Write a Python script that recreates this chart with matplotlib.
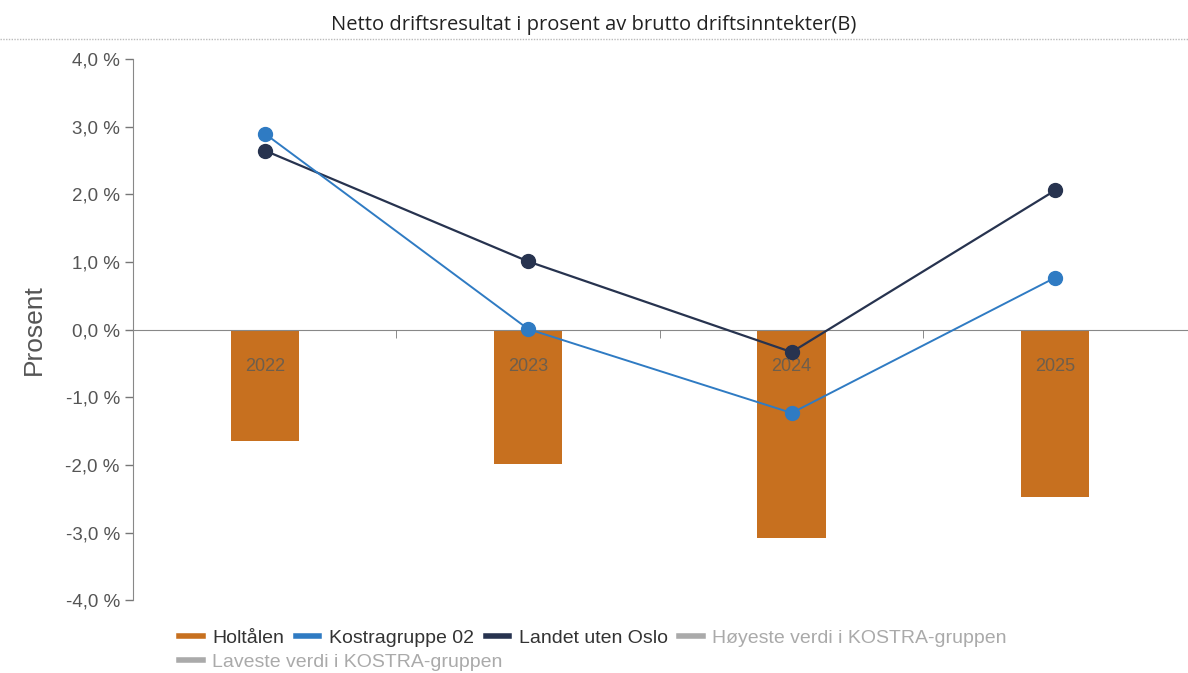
import numpy as np
import matplotlib.pyplot as plt
from matplotlib.lines import Line2D
from matplotlib.ticker import FuncFormatter

# data
years = ["2022", "2023", "2024", "2025"]
holtalen = [-1.64, -1.98, -3.08, -2.47]
kostragruppe = [2.90, 0.01, -1.23, 0.77]
landet = [2.65, 1.01, -0.33, 2.06]

c_bar = "#C7701F"
c_kostra = "#2F7BC3"
c_landet = "#27334F"
c_grey = "#AAAAAA"

plt.rcParams['font.family'] = ['Liberation Sans', 'DejaVu Sans']

fig = plt.figure(figsize=(11.88, 6.73), dpi=100)
ax = fig.add_axes([0.112, 0.108, 0.887, 0.804])

x = np.arange(len(years))
ax.bar(x, holtalen, width=0.26, color=c_bar, zorder=2)
ax.plot(x, landet, color=c_landet, lw=1.6, marker="o", ms=10, zorder=6)
ax.plot(x, kostragruppe, color=c_kostra, lw=1.4, marker="o", ms=10, zorder=7)

ax.set_xlim(-0.5, 3.5)
ax.set_ylim(-4, 4)
ax.set_yticks(np.arange(-4, 5, 1))
ax.yaxis.set_major_formatter(FuncFormatter(lambda v, p: f"{v:.1f} %".replace(".", ",")))
ax.tick_params(axis="y", labelsize=13.5, labelcolor="#555555", color="#777777", length=6, width=1)

# category labels sit inside the bars, ticks at category boundaries
ax.set_xticks(x)
ax.set_xticklabels(years)
ax.tick_params(axis="x", which="major", length=0, pad=20, labelsize=13, labelcolor="#6E5E4C")
ax.set_xticks([0.5, 1.5, 2.5], minor=True)
ax.tick_params(axis="x", which="minor", length=6, color="#777777", direction="out")
ax.xaxis.set_zorder(5)

ax.spines["bottom"].set_position(("data", 0))
ax.spines["bottom"].set_color("#888888")
ax.spines["bottom"].set_zorder(5)
ax.spines["left"].set_color("#888888")
ax.spines["top"].set_visible(False)
ax.spines["right"].set_visible(False)

ax.set_ylabel("Prosent", fontsize=19, color="#555555", labelpad=14)

fig.text(0.5, 0.963, "Netto driftsresultat i prosent av brutto driftsinntekter(B)",
         ha="center", va="center", fontsize=14.5, family=["Open Sans", "DejaVu Sans"], color="#222222")
fig.add_artist(Line2D([0.0, 1.0], [0.942, 0.942], transform=fig.transFigure,
                      color="#BBBBBB", lw=1, ls=(0, (1, 1))))

# legend
row1 = [Line2D([], [], color=c_bar, lw=4),
        Line2D([], [], color=c_kostra, lw=4),
        Line2D([], [], color=c_landet, lw=4),
        Line2D([], [], color=c_grey, lw=4)]
names1 = ["Holtålen", "Kostragruppe 02", "Landet uten Oslo", "Høyeste verdi i KOSTRA-gruppen"]
leg1 = fig.legend(row1, names1, ncol=4, loc="center left", bbox_to_anchor=(0.151, 0.052),
                  frameon=False, fontsize=14, handlelength=1.2, handletextpad=0.5,
                  columnspacing=0.6, borderaxespad=0, borderpad=0)
for t, c in zip(leg1.get_texts(), ["#333333", "#333333", "#333333", "#AAAAAA"]):
    t.set_color(c)
leg2 = fig.legend([Line2D([], [], color=c_grey, lw=4)], ["Laveste verdi i KOSTRA-gruppen"],
                  loc="center left", bbox_to_anchor=(0.151, 0.016), frameon=False,
                  fontsize=14, handlelength=1.2, handletextpad=0.5, borderaxespad=0, borderpad=0)
leg2.get_texts()[0].set_color("#AAAAAA")

fig.savefig("out.png", dpi=100)
